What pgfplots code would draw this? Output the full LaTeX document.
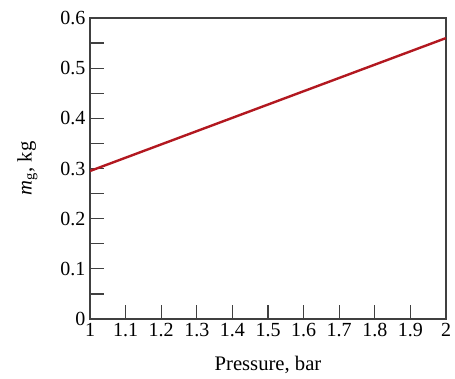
\documentclass[border=0pt]{standalone}
\usepackage{fontspec}
\setmainfont{Liberation Serif}
\usepackage{pgfplots}
\pgfplotsset{compat=1.18}
\definecolor{linered}{RGB}{178,24,32}
\begin{document}
\begin{tikzpicture}
\begin{axis}[
  name=ax,
  scale only axis,
  width=267pt, height=225.75pt,
  xmin=1, xmax=2, ymin=0, ymax=0.6,
  xtick={1,1.1,1.2,1.3,1.4,1.5,1.6,1.7,1.8,1.9,2},
  ytick={0,0.1,0.2,0.3,0.4,0.5,0.6},
  minor ytick={0.05,0.15,0.25,0.35,0.45,0.55},
  xticklabels={1,1.1,1.2,1.3,1.4,1.5,1.6,1.7,1.8,1.9,2},
  yticklabels={0,0.1,0.2,0.3,0.4,0.5,0.6},
  tick align=inside,
  xtick pos=bottom, ytick pos=left,
  major tick length=10.5pt, minor tick length=10.5pt,
  every tick/.style={black!75, line width=0.9pt},
  axis line style={black!75, line width=1pt},
  tick label style={font=\fontsize{15}{16}\selectfont},
  xticklabel style={text height=1.5ex, yshift=-3pt},
  /pgf/number format/assume math mode=true,
  xlabel={Pressure, bar},
  ylabel={\textit{m}\textsubscript{g}, kg},
  every axis x label/.style={at={(axis description cs:0.5,0)}, anchor=center, yshift=-34.5pt, font=\fontsize{15.5}{17}\selectfont},
  every axis y label/.style={at={(axis description cs:0,0.5)}, anchor=center, xshift=-47pt, rotate=90, font=\fontsize{15.5}{17}\selectfont},
]
\addplot[linered, line width=1.8pt] coordinates {(1,0.295) (2,0.56)};
\end{axis}
\pgfresetboundingbox
\path ([xshift=-67.5pt,yshift=-45pt]ax.south west) rectangle ([xshift=6.75pt,yshift=13.5pt]ax.north east);
\end{tikzpicture}
\end{document}
